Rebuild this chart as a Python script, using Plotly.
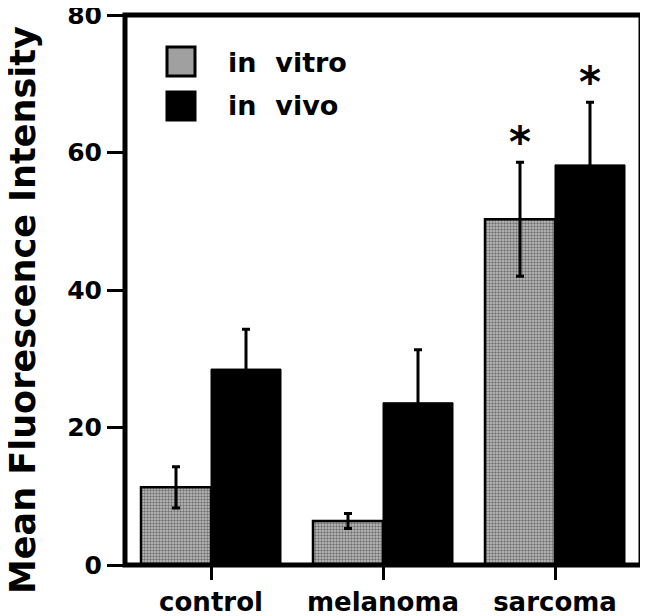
import plotly.graph_objects as go

categories = ["control", "melanoma", "sarcoma"]
vitro = [11.3, 6.4, 50.3]
vitro_err = [3.0, 1.1, 8.3]
vivo = [28.5, 23.6, 58.2]
vivo_err = [5.8, 7.7, 9.1]
sig_vitro = ["", "", "*"]
sig_vivo = ["", "", "*"]
series_names = ["in  vitro", "in  vivo"]
y_ticks = [0, 20, 40, 60, 80]
y_title = "Mean Fluorescence Intensity"

OFF = 8  # default page body margin of the html page
W, H = 648 - OFF, 616 - OFF
ML, MR, MT, MB = 125 - OFF, 7, 15 - OFF, 51
PW, PH = W - ML - MR, H - MT - MB
FONT = "DejaVu Sans"
BARGAP = 0.186


def px_x(p):
    return (p - OFF - ML) / PW


def px_y(p):
    return (H - MB - (p - OFF)) / PH


fig = go.Figure()
fig.add_trace(go.Bar(
    x=categories, y=vitro, name=series_names[0],
    marker=dict(color="#a0a0a0",
                line=dict(color="black", width=2.5),
                pattern=dict(shape=".", size=3, solidity=0.5,
                             fgcolor="#202020", bgcolor="#c4c4c4")),
    error_y=dict(type="data", array=vitro_err, visible=True,
                 color="black", thickness=3, width=4),
))
fig.add_trace(go.Bar(
    x=categories, y=vivo, name=series_names[1],
    marker=dict(color="black", line=dict(color="black", width=1)),
    error_y=dict(type="data", array=vivo_err, visible=True,
                 color="black", thickness=3, width=4),
))

bw = (1 - BARGAP) / 2
annotations = []
for i, c in enumerate(categories):
    for s, v, e, dx in ((sig_vitro[i], vitro[i], vitro_err[i], -bw / 2),
                        (sig_vivo[i], vivo[i], vivo_err[i], bw / 2)):
        if s:
            annotations.append(dict(
                x=i + dx, y=v + e, xref="x", yref="y", text=s,
                showarrow=False, yanchor="bottom", yshift=-7,
                font=dict(family=FONT, size=42, color="black", weight="bold")))

# axis title
annotations.append(dict(
    x=px_x(23), y=px_y(310), xref="paper", yref="paper",
    text=y_title, textangle=-90, showarrow=False,
    xanchor="center", yanchor="middle",
    font=dict(family=FONT, size=35, color="black", weight="bold")))

# manual legend
shapes = []
legend_boxes = [(47, 76), (92, 120)]
legend_text_y = [62, 106]
legend_fill = ["#a0a0a0", "black"]
for k, name in enumerate(series_names):
    y0, y1 = legend_boxes[k]
    shapes.append(dict(type="rect", xref="paper", yref="paper",
                       x0=px_x(167), x1=px_x(195), y0=px_y(y1), y1=px_y(y0),
                       fillcolor=legend_fill[k],
                       line=dict(color="black", width=3)))
    annotations.append(dict(
        x=px_x(226), y=px_y(legend_text_y[k]), xref="paper", yref="paper",
        text=name.replace(" ", "\u00a0"), showarrow=False,
        xanchor="left", yanchor="middle",
        font=dict(family=FONT, size=27, color="black", weight="bold")))

# frame
shapes.append(dict(type="rect", xref="paper", yref="paper",
                   x0=0, x1=1, y0=0, y1=1,
                   line=dict(color="black", width=5), fillcolor="rgba(0,0,0,0)"))

fig.update_layout(
    width=W, height=H,
    margin=dict(l=ML, r=MR, t=MT, b=MB, pad=0, autoexpand=False),
    paper_bgcolor="white", plot_bgcolor="white",
    barmode="group", bargap=BARGAP, bargroupgap=0,
    showlegend=False,
    annotations=annotations, shapes=shapes,
    font=dict(family=FONT, color="black"),
)
fig.update_xaxes(
    type="category", range=[-0.5, 2.5], showline=False, showgrid=False,
    zeroline=False, ticks="outside", ticklen=14, tickwidth=2.5,
    tickcolor="black", automargin=False, ticklabeloverflow="allow",
    tickfont=dict(family=FONT, size=26, color="black", weight="bold"),
)
fig.update_yaxes(
    range=[0, 80], tickvals=y_ticks, showline=False, showgrid=False,
    zeroline=False, ticks="outside", ticklen=17, tickwidth=2.5,
    tickcolor="black", automargin=False, ticklabeloverflow="allow",
    tickfont=dict(family=FONT, size=25, color="black", weight="bold"),
)

fig.write_html("out.html")
